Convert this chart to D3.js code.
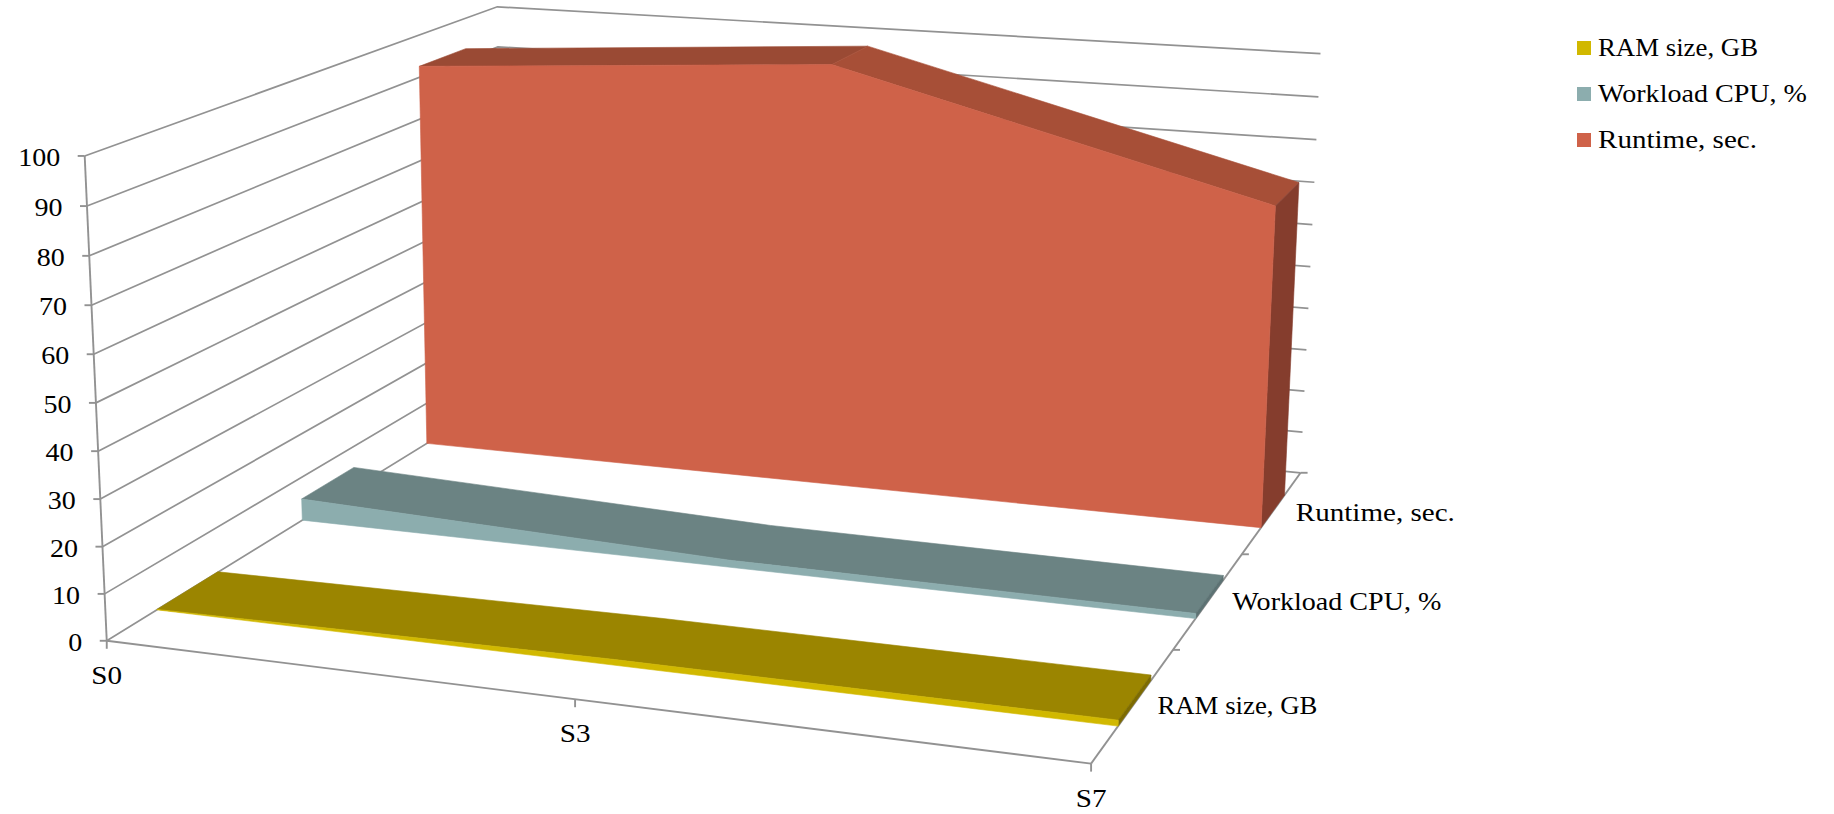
<!DOCTYPE html>
<html>
<head>
<meta charset="utf-8">
<script src="https://cdn.jsdelivr.net/npm/d3@7/dist/d3.min.js"></script>
<style>
  html, body { margin: 0; padding: 0; background: #fff; }
  svg { display: block; }
  text { font-family: "Liberation Serif", serif; fill: #000; }
</style>
</head>
<body>
<svg id="chart" width="1834" height="814"></svg>
<script>
// Chart data
const categories = ["S0", "S3", "S7"];
const seriesNames = ["RAM size, GB", "Workload CPU, %", "Runtime, sec."];
const ramValues = [0.1, 1.2, 1.2];
const cpuValues = [5, 1.6, 1.1];
const runtimeValues = [92.6, 99, 73.7];
const valueTicks = [0, 10, 20, 30, 40, 50, 60, 70, 80, 90, 100];
const seriesValues = [ramValues, cpuValues, runtimeValues];

// Shading per series: front face, top while rising, top while falling, right side
const seriesFaces = [
  { front: "#d1b800", rise: "#9b8500", fall: "#9b8500", side: "#7d6b00" },
  { front: "#8cadae", rise: "#6b8383", fall: "#6b8383", side: "#5c7273" },
  { front: "#cf6249", rise: "#9a4a34", fall: "#a74f37", side: "#853d2d" }
];

// Set widths of the series labels and their stretch on the value and category labels
const seriesLabelWidth = [160, 209, 159];
const tickStretch = 1.12;

// Scales into the unit cube: x runs along the categories, y up the values, z front to back
const xScale = d3.scalePoint().domain(categories).range([0, 1]);
const yScale = d3.scaleLinear().domain([0, 100]).range([0, 1]);
const zScale = d3.scaleLinear().domain([0, seriesNames.length]).range([0, 1]);
const ribbonFront = 0.31, ribbonBack = 0.71;

// Camera calibration: unit-cube position -> page position of the plot frame
const frameAnchors = [
  [0, 0, 0, 107.5, 640], [0, 0.1, 0, 104.8, 593.3], [0, 0.2, 0, 102.8, 546],
  [0, 0.3, 0, 100.8, 498.7], [0, 0.4, 0, 98.5, 450.7], [0, 0.5, 0, 96, 402.5],
  [0, 0.6, 0, 93.3, 354.3], [0, 0.7, 0, 91.3, 305.3], [0, 0.8, 0, 89, 256],
  [0, 0.9, 0, 86.2, 206.7], [0, 1, 0, 84.6, 156],
  [0, 1, 1, 497.4, 6.7], [0, 0.9, 1, 498.9, 46.7],
  [1, 0, 1, 1300.7, 472.3], [1, 0.1, 1, 1302.7, 432.3], [1, 0.2, 1, 1304.5, 390.7],
  [1, 0.3, 1, 1306.5, 349.7], [1, 0.4, 1, 1308.3, 308.7], [1, 0.5, 1, 1310.2, 266.7],
  [1, 0.6, 1, 1312.4, 224.7], [1, 0.7, 1, 1314.1, 182.3], [1, 0.8, 1, 1316.2, 139.7],
  [1, 0.9, 1, 1318.3, 96.7], [1, 1, 1, 1320.7, 53.7],
  [1, 0, 0, 1091.7, 764], [0.5, 0, 0, 575.3, 700],
  [1, 0, 1 / 3, 1173.9, 649.3], [1, 0, 2 / 3, 1242, 554],
  [0, 0, 0.31 / 3, 157, 610.7], [0, 0, 1.31 / 3, 301, 520.7], [0, 0, 2.31 / 3, 426.3, 444],
  [1, 0, 2.31 / 3, 1261, 527.7], [1, 0, 1.31 / 3, 1195, 618.3], [1, 0, 0.31 / 3, 1117.3, 726.7]
];

// Least-squares fit of an 11-parameter projective camera
function fitCamera(anchors) {
  const n = 11, k = 1000;
  const A = Array.from({ length: n }, () => new Array(n + 1).fill(0));
  const addRow = (row, rhs) => {
    for (let i = 0; i < n; i++) {
      for (let j = 0; j < n; j++) A[i][j] += row[i] * row[j];
      A[i][n] += row[i] * rhs;
    }
  };
  anchors.forEach(([x, y, z, u0, v0]) => {
    const u = u0 / k, v = v0 / k;
    addRow([x, y, z, 1, 0, 0, 0, 0, -u * x, -u * y, -u * z], u);
    addRow([0, 0, 0, 0, x, y, z, 1, -v * x, -v * y, -v * z], v);
  });
  for (let c = 0; c < n; c++) {
    let best = c;
    for (let r = c + 1; r < n; r++) if (Math.abs(A[r][c]) > Math.abs(A[best][c])) best = r;
    [A[c], A[best]] = [A[best], A[c]];
    for (let r = 0; r < n; r++) {
      if (r === c) continue;
      const f = A[r][c] / A[c][c];
      for (let j = c; j <= n; j++) A[r][j] -= f * A[c][j];
    }
  }
  const p = A.map((row, i) => row[n] / row[i]);
  return (x, y, z) => {
    const w = p[8] * x + p[9] * y + p[10] * z + 1;
    return [k * (p[0] * x + p[1] * y + p[2] * z + p[3]) / w,
            k * (p[4] * x + p[5] * y + p[6] * z + p[7]) / w];
  };
}
const project = fitCamera(frameAnchors);

const svg = d3.select("#chart");
const polyline = d3.line();
const gridColor = "#929292";

// Walls: each value gets a line across the left wall and along the back wall
const walls = svg.append("g").attr("fill", "none").attr("stroke", gridColor).attr("stroke-width", 1.7);
valueTicks.forEach(v => {
  const y = yScale(v);
  walls.append("path").attr("d", polyline([project(0, y, 0), project(0, y, 1), project(1, y, 1)]));
});

// Axes and their tick marks
const axes = svg.append("g").attr("fill", "none").attr("stroke", gridColor).attr("stroke-width", 1.9);
axes.append("path").attr("d", polyline([project(0, 0, 0), project(0, 1, 0)]));
axes.append("path").attr("d", polyline([project(0, 0, 0), project(1, 0, 0)]));
axes.append("path").attr("d", polyline([project(1, 0, 0), project(1, 0, 1)]));
valueTicks.forEach(v => {
  const [px, py] = project(0, yScale(v), 0);
  axes.append("path").attr("d", polyline([[px - 7, py], [px, py]]));
});
categories.forEach(c => {
  const [px, py] = project(xScale(c), 0, 0);
  axes.append("path").attr("d", polyline([[px, py], [px, py + 8]]));
});
d3.range(1, seriesNames.length + 1).forEach(i => {
  const [px, py] = project(1, 0, zScale(i));
  axes.append("path").attr("d", polyline([[px, py], [px + 7, py]]));
});

// Series ribbons, drawn from the back row forward
const ribbons = svg.append("g");
d3.range(seriesNames.length - 1, -1, -1).forEach(s => {
  const values = seriesValues[s], faces = seriesFaces[s];
  const zf = zScale(s + ribbonFront), zb = zScale(s + ribbonBack);
  const g = ribbons.append("g").attr("stroke-width", 0.6).attr("stroke-linejoin", "round");
  const face = (points, fill) => g.append("path")
    .attr("d", polyline(points) + "Z").attr("fill", fill).attr("stroke", fill);

  const crest = categories.map((c, i) => [xScale(c), yScale(values[i])]);
  if (faces.rise === faces.fall) {
    // One colour along the ribbon: a single top face leaves no seam at the bend
    face([...crest.map(a => project(a[0], a[1], zf)), ...crest.slice().reverse().map(a => project(a[0], a[1], zb))], faces.rise);
  } else {
    d3.pairs(crest).forEach(([a, b]) => {
      face([project(a[0], a[1], zf), project(a[0], a[1], zb), project(b[0], b[1], zb), project(b[0], b[1], zf)],
        b[1] >= a[1] ? faces.rise : faces.fall);
    });
  }
  const end = crest[crest.length - 1];
  face([project(1, 0, zf), project(1, 0, zb), project(1, end[1], zb), project(1, end[1], zf)], faces.side);
  face([project(0, 0, zf), ...crest.map(a => project(a[0], a[1], zf)), project(1, 0, zf)], faces.front);
});

// Labels are stretched a little so the serif face takes the chart's lettering widths
const addText = (sel, str, x, y, anchor, size, width) => {
  const t = sel.append("text").attr("x", x).attr("y", y).attr("text-anchor", anchor)
    .attr("font-size", size).text(str);
  const len = width || t.node().getComputedTextLength() * tickStretch;
  t.attr("textLength", len).attr("lengthAdjust", "spacingAndGlyphs");
  return t;
};
const labels = svg.append("g");
valueTicks.forEach(v => {
  const [px, py] = project(0, yScale(v), 0);
  addText(labels, String(v), px - 24.5, py + 10, "end", 25);
});
categories.forEach(c => {
  const [px, py] = project(xScale(c), 0, 0);
  addText(labels, c, px, py + 43, "middle", 26);
});
seriesNames.forEach((name, i) => {
  const [px, py] = project(1, 0, zScale(i + 0.5));
  addText(labels, name, px + 23.5, py + 9.5, "start", 26, seriesLabelWidth[i]);
});

// Legend
const legendRowY = d3.scalePoint().domain(seriesNames).range([41, 133]);
const legend = svg.append("g");
seriesNames.forEach((name, i) => {
  legend.append("rect").attr("x", 1577).attr("y", legendRowY(name)).attr("width", 14).attr("height", 14)
    .attr("fill", seriesFaces[i].front);
  addText(legend, name, 1598, legendRowY(name) + 14.7, "start", 26, seriesLabelWidth[i]);
});
</script>
</body>
</html>
